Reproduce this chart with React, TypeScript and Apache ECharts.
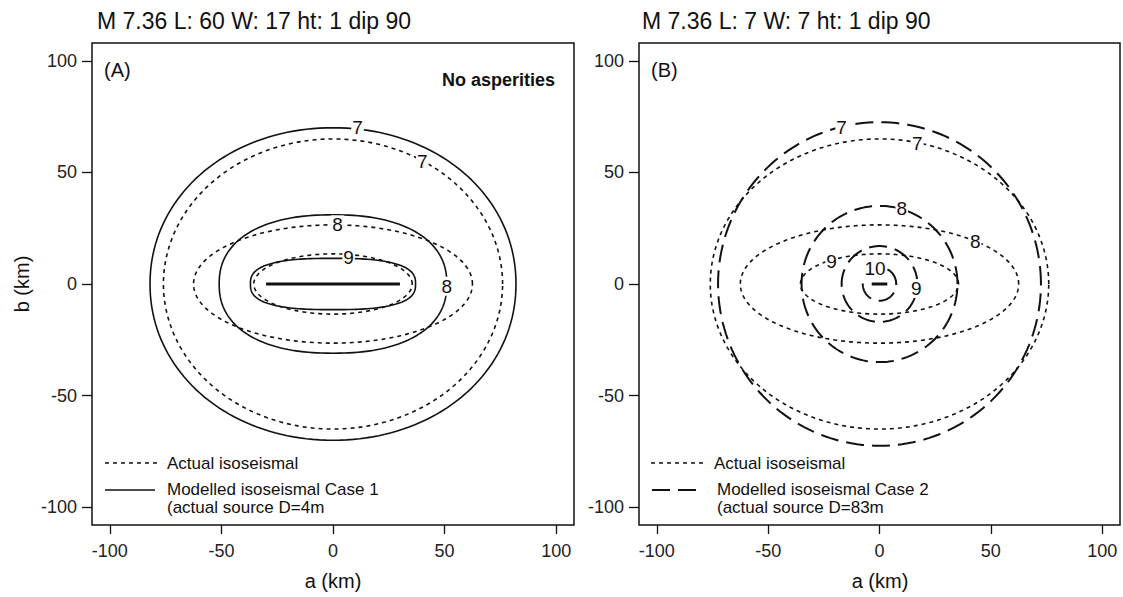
import React, { useEffect, useRef } from "react";
import * as echarts from "echarts";

// ---- Data ----
const TICKS = [-100, -50, 0, 50, 100];
const AXIS_MIN = -108;
const AXIS_MAX = 108;

// Actual isoseismals (dotted) – same in both panels
const actualLevels = [7, 8, 9];
const actualSemiA = [76, 62.5, 35.5];
const actualSemiB = [65, 26.5, 13.5];

// Modelled isoseismals Case 1 (solid, panel A)
const case1Levels = [7, 8, 9];
const case1SemiA = [82, 51, 37];
const case1SemiB = [70, 31, 11.5];
const case1Squareness = [2.05, 2.3, 2.7];

// Modelled isoseismals Case 2 (long dashes, panel B)
const case2Levels = [7, 8, 9, 10];
const case2Radius = [72.5, 35, 17, 7.5];

// Fault traces
const faultA = [[-30, 0], [30, 0]];
const faultB = [[-3.5, 0], [3.5, 0]];

// Contour labels
const labelAx = [11, 40, 2, 51, 7];
const labelAy = [70, 55, 26.5, -1, 12];
const labelAText = ["7", "7", "8", "8", "9"];

const labelBx = [-17, 17, 10, 43, -21.5, 16.5, -2];
const labelBy = [70, 63, 34, 19, 10, -2, 7];
const labelBText = ["7", "7", "8", "8", "9", "9", "10"];

const titles = ["M 7.36 L: 60 W: 17 ht: 1 dip 90", "M 7.36 L: 7 W: 7 ht: 1 dip 90"];

const FONT = "Liberation Sans, Arial, Helvetica, sans-serif";

function contourSeries(gridIndex: number, rows: number[][], style: any) {
  return {
    type: "custom",
    xAxisIndex: gridIndex,
    yAxisIndex: gridIndex,
    silent: true,
    z: 2,
    encode: { x: 0, y: 1 },
    data: rows,
    renderItem: (params: any, api: any) => {
      const a = api.value(2);
      const b = api.value(3);
      const n = api.value(4);
      const pts: number[][] = [];
      const N = 180;
      for (let i = 0; i <= N; i++) {
        const t = (i / N) * Math.PI * 2;
        const c = Math.cos(t);
        const s = Math.sin(t);
        const x = a * Math.sign(c) * Math.pow(Math.abs(c), 2 / n);
        const y = b * Math.sign(s) * Math.pow(Math.abs(s), 2 / n);
        pts.push(api.coord([x, y]));
      }
      return {
        type: "polyline",
        shape: { points: pts },
        style: { fill: "none", stroke: "#111", ...style },
      };
    },
  };
}

function labelSeries(gridIndex: number, xs: number[], ys: number[], texts: string[]) {
  return {
    type: "scatter",
    xAxisIndex: gridIndex,
    yAxisIndex: gridIndex,
    silent: true,
    symbolSize: 0,
    z: 10,
    itemStyle: { opacity: 1 },
    data: xs.map((x, i) => ({ value: [x, ys[i]], name: texts[i] })),
    label: {
      show: true,
      position: "inside",
      formatter: "{b}",
      fontSize: 19,
      fontFamily: FONT,
      color: "#111",
      opacity: 1,
      backgroundColor: "#fff",
      padding: [0, 1],
    },
  };
}

function faultSeries(gridIndex: number, data: number[][]) {
  return {
    type: "line",
    xAxisIndex: gridIndex,
    yAxisIndex: gridIndex,
    silent: true,
    symbol: "none",
    z: 3,
    data,
    lineStyle: { color: "#111", width: 3 },
  };
}

function makeAxis(gridIndex: number, isX: boolean) {
  return {
    type: "value",
    gridIndex,
    position: isX ? "bottom" : "left",
    min: AXIS_MIN,
    max: AXIS_MAX,
    axisLine: { show: false, onZero: false },
    splitLine: { show: false },
    axisTick: {
      show: true,
      inside: false,
      length: isX ? 9 : 10,
      customValues: TICKS,
      lineStyle: { color: "#111", width: 1.3 },
    },
    axisLabel: {
      customValues: TICKS,
      fontSize: 18,
      fontFamily: FONT,
      color: "#222",
      margin: isX ? 17 : 15,
    },
  };
}

export default function App() {
  const ref = useRef<HTMLDivElement>(null);
  useEffect(() => {
    if (!ref.current) return;
    const chart = echarts.init(ref.current, null, { renderer: "svg" });

    const actualRows = actualLevels.map((_, i) => [0, 0, actualSemiA[i], actualSemiB[i], 2]);
    const case1Rows = case1Levels.map((_, i) => [0, 0, case1SemiA[i], case1SemiB[i], case1Squareness[i]]);
    const case2Rows = case2Levels.map((_, i) => [0, 0, case2Radius[i], case2Radius[i], 2]);

    const dotted = { lineWidth: 1.6, lineDash: [4, 4] };
    const solid = { lineWidth: 1.6 };
    const longDash = { lineWidth: 2, lineDash: [18, 8] };

    const txt = (text: string, x: number, y: number, extra: any = {}) => ({
      type: "text",
      x,
      y,
      silent: true,
      style: {
        text,
        fontSize: 17,
        fontFamily: FONT,
        fill: "#111",
        textAlign: "left",
        textVerticalAlign: "middle",
        ...extra,
      },
    });
    const ln = (x1: number, x2: number, y: number, style: any) => ({
      type: "line",
      silent: true,
      shape: { x1, y1: y, x2, y2: y },
      style: { stroke: "#111", ...style },
    });

    chart.setOption({
      animation: false,
      backgroundColor: "#fff",
      grid: [
        { left: 92, top: 43, width: 482, height: 482, show: true, borderColor: "#111", borderWidth: 1.5, backgroundColor: "transparent" },
        { left: 639, top: 43, width: 481, height: 482, show: true, borderColor: "#111", borderWidth: 1.5, backgroundColor: "transparent" },
      ],
      xAxis: [makeAxis(0, true), makeAxis(1, true)],
      yAxis: [makeAxis(0, false), makeAxis(1, false)],
      series: [
        contourSeries(0, actualRows, dotted),
        contourSeries(0, case1Rows, solid),
        faultSeries(0, faultA),
        labelSeries(0, labelAx, labelAy, labelAText),
        contourSeries(1, actualRows, dotted),
        contourSeries(1, case2Rows, longDash),
        faultSeries(1, faultB),
        labelSeries(1, labelBx, labelBy, labelBText),
      ],
      graphic: [
        txt(titles[0], 97, 21, { fontSize: 23 }),
        txt(titles[1], 642, 21, { fontSize: 23 }),
        txt("(A)", 104, 70, { fontSize: 20 }),
        txt("(B)", 651, 70, { fontSize: 20 }),
        txt("No asperities", 555, 80, { fontSize: 18, fontWeight: "bold", textAlign: "right" }),
        txt("a (km)", 333, 581, { fontSize: 20, textAlign: "center" }),
        txt("a (km)", 880, 581, { fontSize: 20, textAlign: "center" }),
        {
          type: "text",
          x: 22,
          y: 284,
          rotation: Math.PI / 2,
          silent: true,
          style: { text: "b (km)", fontSize: 20, fontFamily: FONT, fill: "#111", textAlign: "center", textVerticalAlign: "middle" },
        },
        // Legend panel A
        ln(105, 160, 463, { lineWidth: 1.6, lineDash: [4, 4] }),
        txt("Actual isoseismal", 167, 463),
        ln(105, 155, 490, { lineWidth: 1.6 }),
        txt("Modelled isoseismal Case 1", 167, 489),
        txt("(actual source D=4m", 167, 507),
        // Legend panel B
        ln(651, 706, 463, { lineWidth: 1.6, lineDash: [4, 4] }),
        txt("Actual isoseismal", 714, 463),
        ln(652, 702, 490, { lineWidth: 2, lineDash: [18, 8] }),
        txt("Modelled isoseismal Case 2", 717, 489),
        txt("(actual source D=83m", 717, 507),
      ],
    });
    return () => chart.dispose();
  }, []);

  return (
    <div
      ref={ref}
      style={{ position: "fixed", left: 0, top: 0, width: 1123, height: 597, background: "#fff" }}
    />
  );
}
